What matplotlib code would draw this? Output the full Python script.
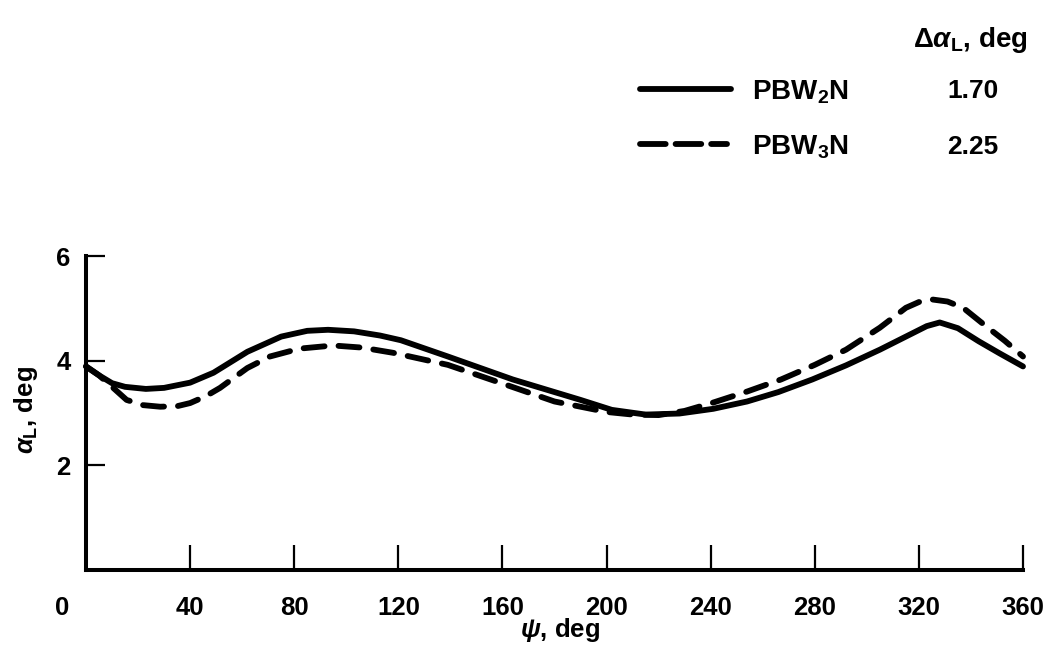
import matplotlib
matplotlib.use("Agg")
import matplotlib.pyplot as plt
from matplotlib.lines import Line2D
from matplotlib.transforms import ScaledTranslation

plt.rcParams['font.family'] = ['Liberation Sans', 'DejaVu Sans']
plt.rcParams['font.weight'] = 'bold'
plt.rcParams['mathtext.fontset'] = 'custom'
plt.rcParams['mathtext.rm'] = 'Liberation Sans:bold'
plt.rcParams['mathtext.it'] = 'Liberation Sans:bold:italic'
plt.rcParams['mathtext.bf'] = 'Liberation Sans:bold'

# Data
psi_2 = [0, 5, 10, 15, 23, 30, 40, 49, 62, 75, 85, 93, 103, 113, 121, 139, 164,
         190, 202, 215, 228, 241, 254, 266, 279, 292, 305, 315, 323, 328, 335,
         343, 351, 360]
alpha_2 = [3.89, 3.72, 3.57, 3.50, 3.46, 3.48, 3.58, 3.77, 4.17, 4.46, 4.57, 4.59,
           4.56, 4.48, 4.39, 4.08, 3.64, 3.25, 3.06, 2.97, 2.99, 3.08, 3.22, 3.40,
           3.64, 3.91, 4.21, 4.46, 4.66, 4.73, 4.62, 4.37, 4.14, 3.89]

psi_3 = [0, 5, 10, 15.6, 22, 28.5, 35, 40, 46, 51.5, 57, 62, 70.7, 82, 95, 106,
         118, 139, 159, 180, 190, 200, 210, 220, 230, 241, 254, 267, 280, 292,
         305, 315, 320, 325, 331, 337, 346, 353, 360]
alpha_3 = [3.89, 3.72, 3.50, 3.25, 3.15, 3.12, 3.13, 3.19, 3.32, 3.48, 3.68, 3.86,
           4.08, 4.23, 4.29, 4.25, 4.15, 3.92, 3.58, 3.22, 3.12, 3.02, 2.97, 2.96,
           3.04, 3.20, 3.41, 3.64, 3.92, 4.21, 4.63, 5.01, 5.12, 5.17, 5.13, 5.01,
           4.65, 4.38, 4.08]

series_names = ['PBW$_2$N', 'PBW$_3$N']
delta_alpha = ['1.70', '2.25']
x_ticks = [40, 80, 120, 160, 200, 240, 280, 320, 360]
y_ticks = [2, 4, 6]

FS = 18.5
fig = plt.figure(figsize=(10.52, 6.45), dpi=100)
ax = fig.add_axes([86 / 1052, 1 - 570 / 645, (1023 - 86) / 1052, (570 - 256) / 645])

lw = 4.2
ax.plot(psi_2, alpha_2, color='black', lw=lw, solid_capstyle='round',
        solid_joinstyle='round', clip_on=False)
ax.plot(psi_3, alpha_3, color='black', lw=lw, linestyle=(0, (3.6, 2.4)),
        dash_capstyle='round', clip_on=False)

ax.set_xlim(0, 360)
ax.set_ylim(0, 6)
for s in ['top', 'right']:
    ax.spines[s].set_visible(False)
for s in ['left', 'bottom']:
    ax.spines[s].set_linewidth(2.9)
    ax.spines[s].set_capstyle('projecting')

ax.set_xticks(x_ticks)
ax.set_yticks(y_ticks)
ax.tick_params(axis='x', direction='in', length=18, width=1.6, pad=19,
               labelsize=FS)
ax.tick_params(axis='y', direction='in', length=14, width=1.6, pad=11,
               labelsize=FS)
for lab in ax.get_xticklabels() + ax.get_yticklabels():
    lab.set_fontweight('bold')

ax.text(-24 / 2.603, 0, '0', fontsize=FS, fontweight='bold', ha='center',
        va='top', transform=ax.transData + ScaledTranslation(0, -19 / 72, fig.dpi_scale_trans))

ax.set_xlabel(r'$\psi$, deg', fontsize=FS, fontweight='bold')
ax.xaxis.set_label_coords((560 - 86) / 937, -(616 - 570) / 314)
ax.set_ylabel(r'$\alpha_\mathrm{L}$, deg', fontsize=FS, fontweight='bold')
ax.yaxis.set_label_coords(-(86 - 40) / 937, (570 - 410) / 314)

# legend block
W, H = 1052, 645
def fx(px):
    return px / W
def fy(py):
    return 1 - py / H

fig.add_artist(Line2D([fx(640), fx(731)], [fy(89), fy(89)], color='black', lw=lw,
                      solid_capstyle='round', transform=fig.transFigure))
fig.add_artist(Line2D([fx(640), fx(727)], [fy(144), fy(144)], color='black', lw=lw,
                      linestyle=(0, (4.4, 1.7)), dash_capstyle='round',
                      transform=fig.transFigure))
for i, (name, d) in enumerate(zip(series_names, delta_alpha)):
    yy = [89, 144][i]
    fig.text(fx(752), fy(yy), name, fontsize=20, fontweight='bold',
             ha='left', va='center_baseline')
    fig.text(fx(973), fy(yy), d, fontsize=FS + 0.5, fontweight='bold',
             ha='center', va='center_baseline')
fig.text(fx(1028), fy(36), r'$\Delta\alpha_\mathrm{L}$, deg', fontsize=20,
         fontweight='bold', ha='right', va='center_baseline')

fig.savefig('out.png', dpi=100)
